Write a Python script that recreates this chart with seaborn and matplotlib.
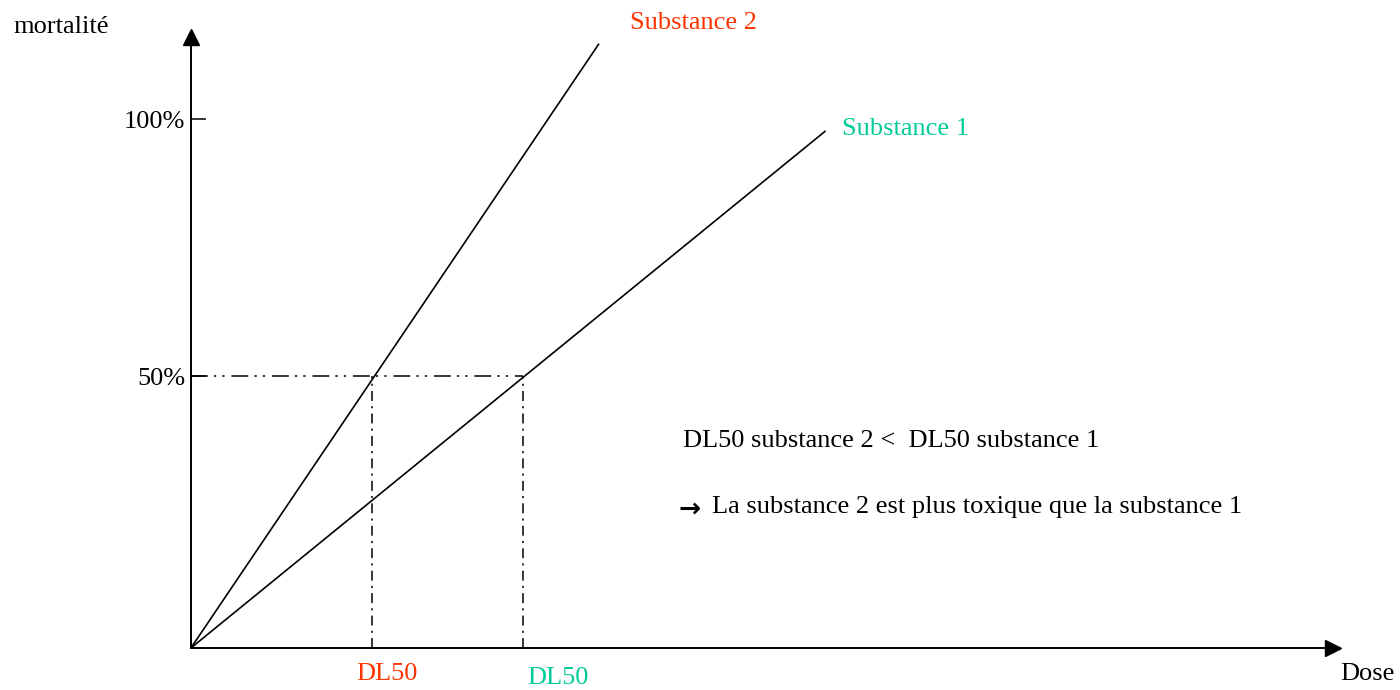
import seaborn as sns
from matplotlib import pyplot as plt

dose_s1 = [0.0, 21.0]
mort_s1 = [0.0, 95.0]
dose_s2 = [0.0, 13.5]
mort_s2 = [0.0, 111.0]
dl50 = [6.0, 11.0]          # substance 2, substance 1
dl50_colors = ["#FF3300", "#00CC99"]
ytick_pos = [50, 97.2]
ytick_labels = ["50%", "100%"]

RED = "#FF3300"
GREEN = "#00CC99"
FS = 19

sns.set_theme(style="white")
plt.rcParams["font.family"] = ["Liberation Serif", "DejaVu Serif"]
plt.rcParams["font.size"] = FS
plt.rcParams["text.color"] = "black"

fig = plt.figure(figsize=(14, 6.9), dpi=100)
ax = fig.add_axes([0, 0, 1, 1])
ax.set_xlim(-6.32, 40.03)
ax.set_ylim(-7.72, 119.12)

# axes avec flèches
for side in ("top", "right"):
    ax.spines[side].set_visible(False)
ax.spines["left"].set_position(("data", 0))
ax.spines["bottom"].set_position(("data", 0))
ax.spines["left"].set_bounds(0, 112.3)
ax.spines["bottom"].set_bounds(0, 37.8)
for side in ("left", "bottom"):
    ax.spines[side].set_linewidth(1.4)
    ax.spines[side].set_color("black")
ax.plot(37.8, 0, ">", color="black", ms=12, clip_on=False)
ax.plot(0, 112.3, "^", color="black", ms=12, clip_on=False)

ax.set_xticks([])
ax.set_yticks(ytick_pos, ytick_labels)
ax.tick_params(axis="y", direction="in", length=11, width=1.1, pad=4,
               colors="black", labelsize=FS, left=True)
ax.grid(False)

# droites dose-réponse
sns.lineplot(x=dose_s1, y=mort_s1, color="black", lw=1.2, ax=ax)
sns.lineplot(x=dose_s2, y=mort_s2, color="black", lw=1.2, ax=ax)

# repères DL50
ax.hlines(50, 0, max(dl50), color="black", lw=1.1,
          linestyles=[(0, (11, 4, 1.5, 4, 1.5, 4.5))])
ax.vlines(dl50, 0, 50, color="black", lw=1.1,
          linestyles=[(0, (6.5, 3.4, 1.4, 3.4))])

ax.annotate("DL50", xy=(dl50[0], 0), xytext=(-11.5, -23), textcoords="offset points",
            color=dl50_colors[0], ha="left", va="baseline")
ax.annotate("DL50", xy=(dl50[1], 0), xytext=(2.9, -26), textcoords="offset points",
            color=dl50_colors[1], ha="left", va="baseline")

# textes
ax.text(-5.89, 113.05, "mortalité", ha="left", va="baseline")
ax.text(38.05, -5.88, "Dose", ha="left", va="baseline")
ax.text(14.54, 113.8, "Substance 2", color=RED, ha="left", va="baseline")
ax.text(21.56, 94.3, "Substance 1", color=GREEN, ha="left", va="baseline")
ax.text(16.29, 36.95, "DL50 substance 2 <  DL50 substance 1", ha="left", va="baseline")
ax.text(16.13, 24.1, "\u2192", family="DejaVu Sans", fontweight="bold", fontsize=19,
        ha="left", va="baseline")
ax.text(17.25, 24.8, "La substance 2 est plus toxique que la substance 1",
        ha="left", va="baseline")

fig.savefig("out.png", dpi=100, facecolor="white")
